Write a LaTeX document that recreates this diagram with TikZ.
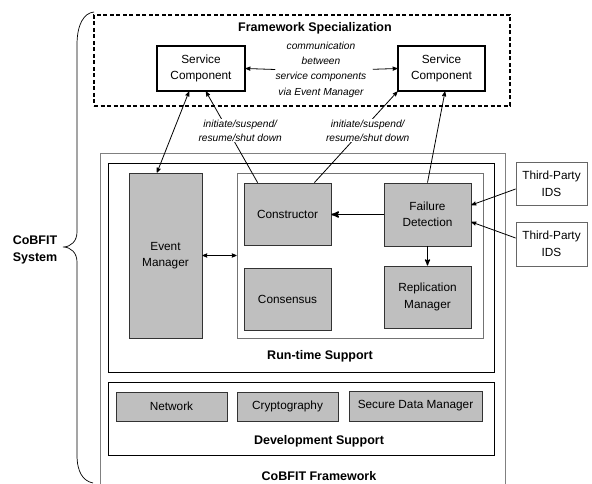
\documentclass[tikz,border=0pt]{standalone}
\usepackage{fontspec}
\setmainfont{Liberation Sans}
\usetikzlibrary{arrows, positioning, calc}

\begin{document}
\begin{tikzpicture}[x=1pt,y=-1pt,>=stealth',line width=0.8pt,
	part node/.style={rectangle,draw=black!80,fill=black!25,align=center,font=\fontsize{11.8}{16.3}\selectfont},
	service node/.style={rectangle,draw,line width=1.2pt,fill=white,align=center,minimum width=88pt,minimum height=45pt,font=\fontsize{11.8}{16.6}\selectfont},
	ids node/.style={rectangle,draw=black!60,align=center,minimum width=71pt,minimum height=43pt,font=\fontsize{11.8}{16.6}\selectfont},
	layer node/.style={rectangle,draw,inner sep=0pt},
	title text/.style={font=\fontsize{12.5}{17}\selectfont\bfseries},
	note text/.style={font=\fontsize{10.2}{15.3}\selectfont\itshape,align=center,inner sep=0pt},
	edge note/.style={font=\fontsize{10.2}{13.6}\selectfont\itshape,align=center,fill=white,inner sep=1pt,anchor=center}]

	\useasboundingbox (0,0) rectangle (592,484);

	% framework specialization
	\node[layer node,line width=1.4pt,dash pattern=on 4pt off 2.5pt,minimum width=416pt,minimum height=91pt] (spec) at (302,60.5) {};
	\node[title text] (speclabel) at (315,28.5) {Framework Specialization};
	\node[service node] (sc1) at (201,68.5) {Service\\Component};
	\node[service node,minimum width=87pt] (sc2) at (441.5,68.5) {Service\\Component};
	\node[note text] (comm) at (321,69.5) {communication\\between\\service components\\via Event Manager};

	% CoBFIT framework (open at the bottom)
	\draw[black!50,line width=1pt] (100,484) |- (505,154) -- (505,484);
	\node[title text] (fwlabel) at (319,476) {CoBFIT Framework};

	% run-time support
	\node[layer node,minimum width=386pt,minimum height=209pt] (rt) at (301,267.5) {};
	\node[title text] (rtlabel) at (320,356) {Run-time Support};
	\node[part node,minimum width=73pt,minimum height=165pt] (em) at (165.5,255.5) {Event\\Manager};
	\node[layer node,draw=black!55,minimum width=246pt,minimum height=165pt] (core) at (360,255.5) {};
	\node[part node,minimum width=87pt,minimum height=62pt] (cons) at (287.5,214) {Constructor};
	\node[part node,minimum width=87pt,minimum height=63pt] (fd) at (427.5,214.5) {Failure\\Detection};
	\node[part node,minimum width=87pt,minimum height=62pt] (consensus) at (287.5,299) {Consensus};
	\node[part node,minimum width=87pt,minimum height=62pt] (rm) at (427.5,297) {Replication\\Manager};

	% development support
	\node[layer node,minimum width=386pt,minimum height=73pt] (dev) at (301,418.5) {};
	\node[title text] (devlabel) at (319,441) {Development Support};
	\node[part node,minimum width=111pt,minimum height=29pt] (net) at (171.5,406.5) {Network};
	\node[part node,minimum width=101pt,minimum height=29pt] (crypto) at (287.5,406.5) {Cryptography};
	\node[part node,minimum width=133pt,minimum height=30pt] (sdm) at (415.5,406) {Secure Data Manager};

	% outside detectors
	\node[ids node] (ids1) at (551.5,183.5) {Third-Party\\IDS};
	\node[ids node,minimum height=44pt] (ids2) at (551.5,244) {Third-Party\\IDS};

	% system brace
	\draw[line width=0.7pt] (94,12) .. controls (84,13) and (77,24) .. (77,45) -- (77,232)
		.. controls (77,241) and (71,247) .. (63,247) .. controls (71,247) and (77,253) .. (77,262)
		-- (77,455) .. controls (77,472) and (83,481) .. (93,483);
	\node[title text,align=left] (sys) at (35,249.5) {CoBFIT\\System};

	\path[->]
	(comm.west) edge (sc1.east)
	(comm.east) edge[shorten <=6pt] (sc2.west)
	([xshift=-12pt]sc1.south) edge[<->] ([xshift=-8.5pt]em.north)
	([xshift=14pt]cons.north west) edge node[edge note,pos=.57,xshift=12pt] {initiate/suspend/\\resume/shut down} ([xshift=5pt]sc1.south)
	([xshift=-17pt]cons.north east) edge node[edge note,pos=.57,xshift=6pt] {initiate/suspend/\\resume/shut down} (sc2.south west)
	(fd.north) edge ([xshift=3.5pt]sc2.south)
	(em.east) edge[<->] (core.west)
	(fd.west) edge[line width=1.6pt] (fd.west -| cons.east)
	(fd.south) edge[line width=1.2pt] (rm.north)
	([yshift=-5.5pt]ids1.west) edge ([yshift=9.5pt]fd.east)
	([yshift=6pt]ids2.west) edge ([yshift=-7.5pt]fd.east);
\end{tikzpicture}
\end{document}
